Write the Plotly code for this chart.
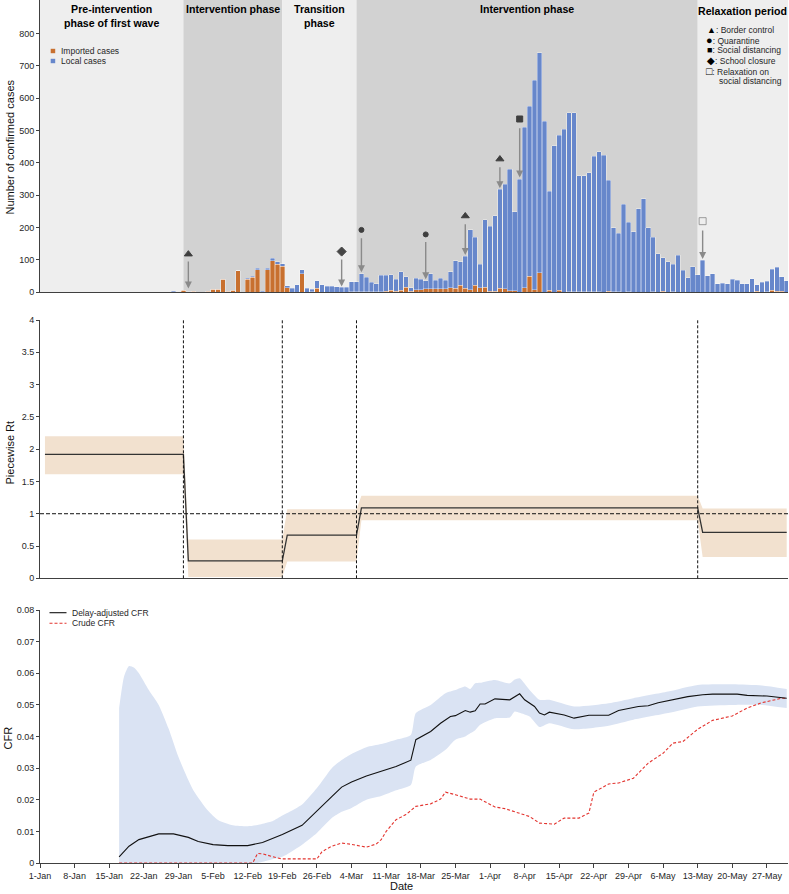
import pandas as pd
import plotly.graph_objects as go

# ---------------- figure geometry ----------------
W, H = 789, 894
ML, MR, MT, MB = 40, 1, 0, 31
PW = W - ML - MR
PH = H - MT - MB


def px(xp):
    return (xp - ML) / PW


def py(yp):
    return (PH + MT - yp) / PH


FONT = "Arial, Liberation Sans, sans-serif"
X0 = pd.Timestamp("2020-01-01")
X_END = "2020-05-31 06:15"

# ---------------- data: daily confirmed cases ----------------
bar_start = "2020-01-28"
total_cases = [3, 0, 7, 2, 3, 0, 0, 3, 10, 10, 41, 3, 6, 66, 0, 44, 50, 74, 3, 75,
               106, 94, 89, 20, 12, 24, 69, 12, 9, 35, 23, 19, 19, 17, 15, 15, 32, 32, 58, 46,
               31, 26, 52, 52, 55, 40, 63, 48, 14, 43, 40, 35, 58, 37, 43, 37, 63, 97, 94, 111,
               194, 171, 86, 225, 204, 236, 318, 334, 381, 249, 349, 510, 576, 656, 741, 529, 313, 454, 485, 504,
               556, 556, 360, 360, 369, 421, 434, 424, 347, 199, 182, 272, 216, 187, 259, 290, 199, 171, 120, 107,
               94, 86, 114, 68, 45, 79, 55, 99, 51, 57, 26, 28, 26, 40, 37, 26, 26, 42, 24, 31,
               34, 71, 77, 48, 35]
imported_cases = [0, 0, 7, 0, 3, 0, 0, 3, 10, 10, 41, 3, 6, 66, 0, 40, 46, 69, 0, 69,
                  97, 87, 80, 14, 0, 0, 58, 0, 2, 13, 0, 0, 0, 0, 0, 0, 1, 1, 2, 1,
                  1, 2, 2, 4, 6, 3, 6, 16, 4, 8, 8, 11, 11, 11, 11, 11, 14, 12, 22, 13,
                  8, 22, 14, 16, 4, 4, 13, 11, 5, 5, 0, 14, 50, 8, 60, 0, 6, 0, 6, 0,
                  2, 2, 2, 1, 2, 1, 2, 0, 3, 1, 2, 0, 1, 0, 0, 0, 0, 1, 0, 3,
                  0, 1, 0, 0, 0, 0, 0, 0, 0, 0, 0, 0, 0, 0, 0, 0, 0, 0, 3, 0,
                  1, 7, 3, 3, 0]
local_cases = [t - i for t, i in zip(total_cases, imported_cases)]
bar_dates = pd.date_range(bar_start, periods=len(total_cases), freq="D")

y_ticks_top = [0, 100, 200, 300, 400, 500, 600, 700, 800]

# phases
phase_names = ["Pre-intervention<br>phase of first wave", "Intervention phase",
               "Transition<br>phase", "Intervention phase", "Relaxation period"]
phase_starts = ["2020-01-01", "2020-01-30", "2020-02-19", "2020-03-05", "2020-05-13"]
phase_fill = ["#EEEEEE", "#D2D2D2", "#EEEEEE", "#D2D2D2", "#EEEEEE"]

# interventions
event_dates = ["2020-01-31", "2020-03-02", "2020-03-06", "2020-03-19",
               "2020-03-27", "2020-04-03", "2020-04-07", "2020-05-14"]
event_symbols = ["triangle-up", "diamond", "circle", "circle",
                 "triangle-up", "triangle-up", "square", "square-open"]
event_marker_y = [118, 126, 193, 179, 236, 412, 536, 220]
event_arrow_top = [100, 106, 172, 160, 215, 391, 512, 196]
event_arrow_tip = [12, 18, 62, 40, 115, 322, 355, 103]

# ---------------- data: piecewise Rt ----------------
rt_dates = ["2020-01-02", "2020-01-30", "2020-01-31", "2020-02-19", "2020-02-20",
            "2020-03-05", "2020-03-06", "2020-05-13", "2020-05-14", "2020-05-31"]
rt_mean = [1.92, 1.92, 0.27, 0.27, 0.67, 0.67, 1.09, 1.09, 0.71, 0.71]
rt_lo = [1.61, 1.61, 0.02, 0.02, 0.26, 0.26, 0.90, 0.90, 0.33, 0.33]
rt_hi = [2.20, 2.20, 0.60, 0.60, 1.07, 1.07, 1.28, 1.28, 1.08, 1.08]

# ---------------- data: CFR ----------------
adj_days = [16, 18, 20, 22, 24, 27, 30, 32, 35, 38, 42, 45, 49, 53, 56, 59, 61, 63, 66, 69,
            72, 75, 76, 79, 81, 83, 84, 86, 87, 88, 89, 90, 92, 95, 97, 98, 100, 101, 102, 103,
            106, 108, 111, 115, 117, 121, 123, 125, 128, 131, 134, 136, 141, 143, 147, 150, 151]
adj_cfr = [0.0019, 0.0053, 0.0074, 0.0084, 0.0092, 0.0092, 0.0081, 0.0068, 0.0058, 0.0055,
           0.0055, 0.0065, 0.0090, 0.0119, 0.0163, 0.0210, 0.0240, 0.0256, 0.0275, 0.0290,
           0.0305, 0.0325, 0.0390, 0.0416, 0.0442, 0.0463, 0.0466, 0.0482, 0.0477, 0.0481,
           0.0503, 0.0503, 0.0519, 0.0516, 0.0535, 0.0516, 0.0495, 0.0474, 0.0468, 0.0477,
           0.0468, 0.0458, 0.0467, 0.0467, 0.0482, 0.0495, 0.0497, 0.0507, 0.0516, 0.0526,
           0.0532, 0.0534, 0.0534, 0.0530, 0.0528, 0.0521, 0.0521]

band_days = [16, 17, 18, 19, 20, 22, 24, 26, 28, 31, 34, 36, 39, 42, 44, 46, 47, 49, 50, 53,
             56, 59, 61, 63, 66, 69, 72, 75, 76, 79, 82, 84, 86, 87, 88, 89, 92, 95, 96, 97,
             99, 101, 103, 108, 115, 120, 127, 133, 140, 146, 151]
band_upper = [0.049, 0.059, 0.0623, 0.0618, 0.0600, 0.0547, 0.0500, 0.0425, 0.0335, 0.0230,
              0.0165, 0.0136, 0.0119, 0.0116, 0.0120, 0.0128, 0.0132, 0.0150, 0.0158, 0.0185,
              0.0237, 0.0300, 0.0326, 0.0345, 0.0366, 0.0376, 0.0390, 0.0405, 0.0474, 0.0500,
              0.0537, 0.0547, 0.0558, 0.0550, 0.0568, 0.0570, 0.0579, 0.0568, 0.0580, 0.0584,
              0.0547, 0.0516, 0.0516, 0.0495, 0.0505, 0.0521, 0.0542, 0.0563, 0.0565, 0.0561,
              0.0550]
band_lower = [0, 0, 0, 0, 0, 0, 0, 0, 0, 0,
              0, 0, 0, 0, 0, 0.0008, 0.0012, 0.0020, 0.0028, 0.0058,
              0.0095, 0.0142, 0.0162, 0.0174, 0.0200, 0.0212, 0.0230, 0.0247, 0.0305, 0.0326,
              0.0358, 0.0390, 0.0400, 0.0410, 0.0420, 0.0437, 0.0458, 0.0460, 0.0479, 0.0475,
              0.0463, 0.0430, 0.0442, 0.0423, 0.0434, 0.0453, 0.0474, 0.0495, 0.0500, 0.0500,
              0.0490]

crude_days = [16, 43, 44, 45, 48, 49, 56, 57, 58, 59, 61, 63, 66, 68, 69, 70, 72, 74, 76, 79,
              81, 82, 84, 87, 89, 92, 94, 96, 99, 101, 104, 106, 109, 111, 112, 115, 117, 120, 123, 126,
              128, 130, 133, 136, 140, 143, 146, 150, 151]
crude_cfr = [0, 0, 0.0030, 0.0029, 0.0016, 0.0013, 0.0013, 0.0035, 0.0045, 0.0053,
             0.0063, 0.0059, 0.0050, 0.0060, 0.0074, 0.0100, 0.0137, 0.0153, 0.0179, 0.0187,
             0.0202, 0.0224, 0.0216, 0.0202, 0.0202, 0.0177, 0.0172, 0.0161, 0.0147, 0.0126,
             0.0123, 0.0142, 0.0142, 0.0158, 0.0224, 0.0250, 0.0253, 0.0268, 0.0316, 0.0347,
             0.0379, 0.0384, 0.0423, 0.0451, 0.0465, 0.0490, 0.0507, 0.0521, 0.0521]


def to_dates(days):
    return [X0 + pd.Timedelta(days=d) for d in days]


# ---------------- styles ----------------
IMP_COLOR = "#C8702F"
LOC_COLOR = "#6787CB"
RT_BAND = "#F2E1CF"
CFR_BAND = "#DAE3F3"
CRUDE_COLOR = "#E3342F"
AXIS_COLOR = "#404040"
TICK_FONT = dict(family=FONT, size=9, color="#262626")

fig = go.Figure()

# ---- top panel: bars ----
bar_line = dict(color="rgba(255,255,255,0.55)", width=0.6)
fig.add_trace(go.Bar(x=bar_dates, y=imported_cases, marker=dict(color=IMP_COLOR, line=bar_line),
                     xaxis="x", yaxis="y", showlegend=False, name="Imported cases"))
fig.add_trace(go.Bar(x=bar_dates, y=local_cases, marker=dict(color=LOC_COLOR, line=bar_line),
                     xaxis="x", yaxis="y", showlegend=False, name="Local cases"))

event_colors = ["#000000" if s != "square-open" else "#7A7A7A" for s in event_symbols]
event_sizes = [7 if s.startswith("triangle") else 5 if s == "circle" else 6 if s == "square" else 7
               for s in event_symbols]
fig.add_trace(go.Scatter(x=event_dates, y=event_marker_y, mode="markers",
                         marker=dict(symbol=event_symbols, size=event_sizes, color=event_colors,
                                     line=dict(width=1, color=event_colors)),
                         xaxis="x", yaxis="y", showlegend=False, hoverinfo="skip"))

ann = []
for d, top, tip in zip(event_dates, event_arrow_top, event_arrow_tip):
    ann.append(dict(x=d, y=tip, ax=d, ay=top, xref="x", yref="y", axref="x", ayref="y",
                    text="", showarrow=True, arrowhead=2, arrowsize=1, arrowwidth=1.4,
                    arrowcolor="#8A8A8A"))

# ---- middle panel: Rt ----
rt_x = pd.to_datetime(rt_dates)
fig.add_trace(go.Scatter(x=rt_x, y=rt_lo, mode="lines", line=dict(width=0, color=RT_BAND),
                         xaxis="x2", yaxis="y2", showlegend=False, hoverinfo="skip"))
fig.add_trace(go.Scatter(x=rt_x, y=rt_hi, mode="lines", line=dict(width=0, color=RT_BAND),
                         fill="tonexty", fillcolor=RT_BAND,
                         xaxis="x2", yaxis="y2", showlegend=False, hoverinfo="skip"))
fig.add_trace(go.Scatter(x=rt_x, y=rt_mean, mode="lines", line=dict(width=1.3, color="#333333"),
                         xaxis="x2", yaxis="y2", showlegend=False))

# ---- bottom panel: CFR ----
bd = to_dates(band_days)
fig.add_trace(go.Scatter(x=bd, y=band_lower, mode="lines",
                         line=dict(width=0, color=CFR_BAND, shape="spline", smoothing=0.6),
                         xaxis="x3", yaxis="y3", showlegend=False, hoverinfo="skip"))
fig.add_trace(go.Scatter(x=bd, y=band_upper, mode="lines",
                         line=dict(width=0, color=CFR_BAND, shape="spline", smoothing=0.6),
                         fill="tonexty", fillcolor=CFR_BAND,
                         xaxis="x3", yaxis="y3", showlegend=False, hoverinfo="skip"))
fig.add_trace(go.Scatter(x=to_dates(crude_days), y=crude_cfr, mode="lines",
                         line=dict(width=1.1, color=CRUDE_COLOR, dash="3px,2px"),
                         xaxis="x3", yaxis="y3", showlegend=False, name="Crude CFR"))
fig.add_trace(go.Scatter(x=to_dates(adj_days), y=adj_cfr, mode="lines",
                         line=dict(width=1.1, color="#111111"),
                         xaxis="x3", yaxis="y3", showlegend=False, name="Delay-adjusted CFR"))

# ---------------- shapes ----------------
shapes = []
phase_ends = phase_starts[1:] + [X_END]
for s, e, c in zip(phase_starts, phase_ends, phase_fill):
    shapes.append(dict(type="rect", xref="x", yref="y domain", x0=s, x1=e, y0=0, y1=1,
                       fillcolor=c, line=dict(width=0), layer="below"))
for s in phase_starts[1:]:
    shapes.append(dict(type="line", xref="x2", yref="y2 domain", x0=s, x1=s, y0=0, y1=1,
                       line=dict(color="#111111", width=1, dash="3px,2px")))
shapes.append(dict(type="line", xref="x2 domain", yref="y2", x0=0, x1=1, y0=1, y1=1,
                   line=dict(color="#111111", width=1, dash="4px,2px")))

# legend decorations (top panel)
for yy, col in [(51, IMP_COLOR), (61, LOC_COLOR)]:
    shapes.append(dict(type="rect", xref="paper", yref="paper",
                       x0=px(50.7), x1=px(55.2), y0=py(yy + 2.2), y1=py(yy - 2.2),
                       fillcolor=col, line=dict(width=0)))
# legend decorations (bottom panel)
shapes.append(dict(type="line", xref="paper", yref="paper", x0=px(49.5), x1=px(66.5),
                   y0=py(612.7), y1=py(612.7), line=dict(color="#111111", width=1.1)))
shapes.append(dict(type="line", xref="paper", yref="paper", x0=px(49.5), x1=px(66.5),
                   y0=py(623.3), y1=py(623.3), line=dict(color=CRUDE_COLOR, width=1.1, dash="3px,2px")))

# ---------------- annotations ----------------
for name, s, e in zip(phase_names, phase_starts, phase_ends):
    mid = pd.Timestamp(s) + (pd.Timestamp(e) - pd.Timestamp(s)) / 2
    ysh = -3 if name.startswith("Relaxation") else -1
    ann.append(dict(x=mid, y=1, xref="x", yref="paper", text="<b>" + name + "</b>",
                    showarrow=False, xanchor="center", yanchor="top", yshift=ysh,
                    font=dict(family=FONT, size=10.6, color="#000000")))

small_font = dict(family=FONT, size=8.5, color="#262626")
ann.append(dict(x=px(59.3), y=py(51), xref="paper", yref="paper", text="Imported cases",
                showarrow=False, xanchor="left", yanchor="middle", font=small_font))
ann.append(dict(x=px(59.3), y=py(61), xref="paper", yref="paper", text="Local cases",
                showarrow=False, xanchor="left", yanchor="middle", font=small_font))

sym_lines = [("▲", 9, ": Border control", 705, 30), ("●", 11, ": Quarantine", 704, 40),
             ("■", 9, ": Social distancing", 705, 50), ("◆", 10, ": School closure", 704.5, 60.5),
             ("□", 10.5, ": Relaxation on", 704, 71), ("", 9, "social distancing", 717, 81)]
for sym, ssz, t, xx, yy in sym_lines:
    txt = (f"<span style='font-size:{ssz}px;color:#000000'>{sym}</span>" if sym else "") + t
    ann.append(dict(x=px(xx), y=py(yy), xref="paper", yref="paper", text=txt,
                    showarrow=False, xanchor="left", yanchor="middle", font=small_font))

ann.append(dict(x=px(70), y=py(612.7), xref="paper", yref="paper", text="Delay-adjusted CFR",
                showarrow=False, xanchor="left", yanchor="middle", font=small_font))
ann.append(dict(x=px(70), y=py(623.3), xref="paper", yref="paper", text="Crude CFR",
                showarrow=False, xanchor="left", yanchor="middle", font=small_font))

title_font = dict(family=FONT, size=11, color="#111111")
ann.append(dict(x=px(9.5), y=py(147), xref="paper", yref="paper", text="Number of confirmed cases",
                showarrow=False, textangle=-90, xanchor="center", yanchor="middle", font=title_font))
ann.append(dict(x=px(9.5), y=py(452), xref="paper", yref="paper", text="Piecewise Rt",
                showarrow=False, textangle=-90, xanchor="center", yanchor="middle", font=title_font))
ann.append(dict(x=px(7.5), y=py(738), xref="paper", yref="paper", text="CFR",
                showarrow=False, textangle=-90, xanchor="center", yanchor="middle", font=title_font))
ann.append(dict(x=px(401), y=py(886), xref="paper", yref="paper", text="Date",
                showarrow=False, xanchor="center", yanchor="middle", font=title_font))

# ---------------- layout ----------------
xcommon = dict(type="date", range=["2020-01-01", X_END], showgrid=False, zeroline=False,
               showline=True, linecolor=AXIS_COLOR, linewidth=1, automargin=False)
ycommon = dict(showgrid=False, zeroline=False, showline=True, linecolor=AXIS_COLOR, linewidth=1,
               ticks="outside", ticklen=3, tickcolor=AXIS_COLOR, tickfont=TICK_FONT,
               automargin=False)

fig.update_layout(
    width=W, height=H, autosize=False,
    margin=dict(l=ML, r=MR, t=MT, b=MB, pad=0, autoexpand=False),
    paper_bgcolor="white", plot_bgcolor="white",
    barmode="stack", bargap=0.07,
    showlegend=False,
    font=dict(family=FONT, size=9, color="#262626"),
    xaxis=dict(**xcommon, domain=[0, 1], anchor="y", ticks="", showticklabels=False),
    xaxis2=dict(**xcommon, domain=[0, 1], anchor="y2", ticks="", showticklabels=False, matches="x"),
    xaxis3=dict(**xcommon, domain=[0, 1], anchor="y3", ticks="outside", ticklen=4,
                tickcolor=AXIS_COLOR, showticklabels=True, tickformat="%-d-%b",
                tick0="2020-01-01", dtick=7 * 86400000, tickfont=TICK_FONT, matches="x"),
    yaxis=dict(**ycommon, domain=[py(292.3), 1], anchor="x", range=[0, 904],
               tickmode="array", tickvals=y_ticks_top, ticktext=[str(v) for v in y_ticks_top]),
    yaxis2=dict(**ycommon, domain=[py(578.3), py(320)], anchor="x2", range=[0, 4], dtick=0.5),
    yaxis3=dict(**ycommon, domain=[0, py(610)], anchor="x3", range=[0, 0.08], dtick=0.01),
    shapes=shapes,
    annotations=ann,
)

page_fix = ("document.documentElement.style.margin='0';document.body.style.margin='0';"
            "document.body.style.overflow='hidden';"
            "var gd=document.getElementById('{plot_id}');"
            "Plotly.relayout(gd,{width:789,height:894});")

fig.write_html("out.html",
               config={"responsive": False, "displayModeBar": False, "staticPlot": True},
               post_script=page_fix)
